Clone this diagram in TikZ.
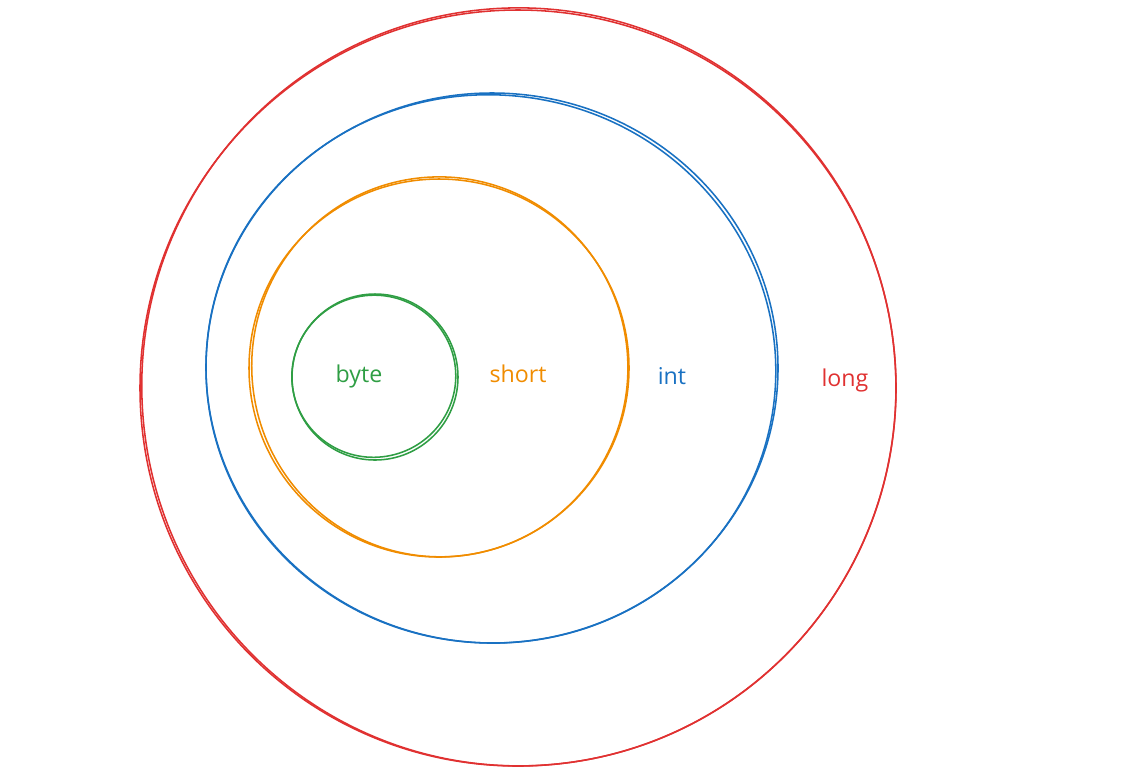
\documentclass[tikz,border=0pt]{standalone}
\usepackage{fontspec}
\setmainfont{Open Sans}
\usetikzlibrary{positioning}

\definecolor{longred}{HTML}{E03131}
\definecolor{intblue}{HTML}{1971C2}
\definecolor{shortorange}{HTML}{F08C00}
\definecolor{bytegreen}{HTML}{2F9E44}

\begin{document}
\begin{tikzpicture} [x=0.025cm,y=-0.025cm,every node/.style={font=\fontsize{16.5}{18}\selectfont},ring/.style={line width=1.1pt}]
\useasboundingbox (0,0) rectangle (1148,779);

% long
\coordinate (clong) at (518,388);
\draw[ring,longred](clong) ellipse[x radius=378,y radius=378];
\draw[ring,longred,rotate around={8:(clong)}](519,387) ellipse[x radius=377,y radius=379];
\node[text=longred] (long) at (845,380) {long};

% int
\coordinate (cint) at (492,368);
\draw[ring,intblue](cint) ellipse[x radius=286,y radius=275];
\draw[ring,intblue,rotate around={-6:(cint)}](491,369) ellipse[x radius=285,y radius=274];
\node[text=intblue] (int) at (672,376) {int};

% short
\coordinate (cshort) at (439,368);
\draw[ring,shortorange](cshort) ellipse[x radius=190,y radius=189];
\draw[ring,shortorange,rotate around={10:(cshort)}](440,367) ellipse[x radius=188,y radius=190];
\node[text=shortorange] (short) at (518,374) {short};

% byte
\coordinate (cbyte) at (375,377);
\draw[ring,bytegreen](cbyte) ellipse[x radius=83,y radius=83];
\draw[ring,bytegreen,rotate around={12:(cbyte)}](374,376) ellipse[x radius=82,y radius=81];
\node[text=bytegreen] (byte) at (359,376) {byte};
\end{tikzpicture}
\end{document}
